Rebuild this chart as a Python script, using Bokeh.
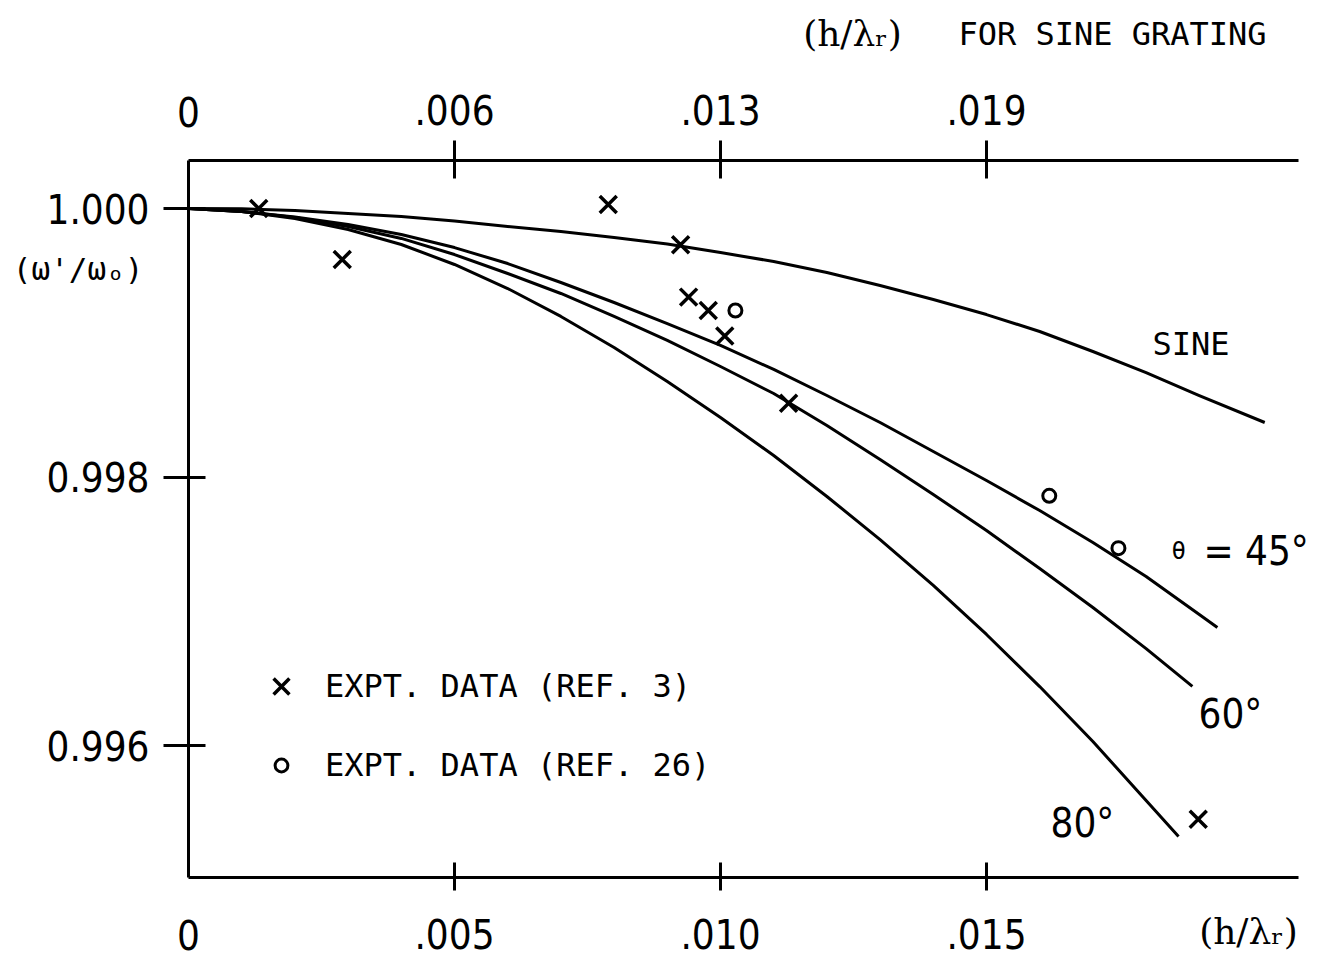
from bokeh.plotting import figure
from bokeh.models import (Range1d, LinearAxis, FixedTicker, Label, Legend,
                          LegendItem)
from bokeh.embed import file_html
from bokeh.resources import INLINE

# ---------------- data ----------------
x_sine = [0.0, 0.001, 0.002, 0.003, 0.004, 0.005, 0.006, 0.007, 0.008, 0.009, 0.010,
          0.011, 0.012, 0.013, 0.014, 0.015, 0.016, 0.017, 0.018, 0.019, 0.02023]
y_sine = [1.0, 0.999998, 0.999985, 0.999963, 0.999940, 0.999907, 0.999866, 0.999829,
          0.999784, 0.999736, 0.999672, 0.999605, 0.999523, 0.999426, 0.999322,
          0.999210, 0.999084, 0.998935, 0.998778, 0.998607, 0.998406]

x_45 = [0.0, 0.001, 0.002, 0.003, 0.004, 0.005, 0.006, 0.007, 0.008, 0.009, 0.010,
        0.011, 0.012, 0.013, 0.014, 0.015, 0.016, 0.017, 0.018, 0.019, 0.01934]
y_45 = [1.0, 0.999978, 0.999937, 0.999881, 0.999806, 0.999709, 0.999590, 0.999449,
        0.999300, 0.999143, 0.998980, 0.998801, 0.998607, 0.998406, 0.998190,
        0.997974, 0.997750, 0.997512, 0.997259, 0.996976, 0.996879]

x_60 = [0.0, 0.001, 0.002, 0.003, 0.004, 0.005, 0.006, 0.007, 0.008, 0.009, 0.010,
        0.011, 0.012, 0.013, 0.014, 0.015, 0.016, 0.017, 0.018, 0.01887]
y_60 = [1.0, 0.999978, 0.999933, 0.999866, 0.999777, 0.999657, 0.999516, 0.999367,
        0.999196, 0.999017, 0.998823, 0.998622, 0.998384, 0.998130, 0.997870,
        0.997601, 0.997318, 0.997028, 0.996722, 0.996440]

x_80 = [0.0, 0.001, 0.002, 0.003, 0.004, 0.005, 0.006, 0.007, 0.008, 0.009, 0.010,
        0.011, 0.012, 0.013, 0.014, 0.015, 0.016, 0.017, 0.018, 0.01861]
y_80 = [1.0, 0.999978, 0.999926, 0.999844, 0.999732, 0.999583, 0.999404, 0.999196,
        0.998965, 0.998711, 0.998443, 0.998160, 0.997855, 0.997534, 0.997192,
        0.996827, 0.996439, 0.996030, 0.995590, 0.995322]

x_ref3 = [0.00132, 0.00289, 0.00789, 0.00925, 0.00940, 0.00977, 0.01008, 0.01128, 0.01898]
y_ref3 = [1.00000, 0.99962, 1.00003, 0.99973, 0.99934, 0.99924, 0.99905, 0.99855, 0.99545]

x_ref26 = [0.01028, 0.01618, 0.01748]
y_ref26 = [0.99924, 0.99786, 0.99747]

bottom_ticks = [0.005, 0.010, 0.015]
bottom_labels = [".005", ".010", ".015"]
top_ticks = [0.005, 0.010, 0.015]
top_labels = [".006", ".013", ".019"]
left_ticks = [0.996, 0.998, 1.000]
left_labels = ["0.996", "0.998", "1.000"]
zero_label = "0"
x_title = "(h/\u03bb\u1d63)"
top_note = "FOR SINE GRATING"
y_title = "(\u03c9'/\u03c9\u2092)"

# ---------------- layout ----------------
W, H = 1319, 965
FL, FR, FT, FB = 188, 1315, 160, 877
BOX_R = 1298                      # where the drawn box ends on the right
FW, FH = FR - FL, FB - FT
PX_PER_X = 53200.0                # pixels per unit of h/lambda
PX_PER_Y = 134250.0               # pixels per unit of omega ratio
XMIN = 0.0
XMAX = XMIN + FW / PX_PER_X
YMAX = 1.0 + (208 - FT) / PX_PER_Y
YMIN = YMAX - FH / PX_PER_Y

NARROW = "DejaVu Sans Condensed"
MONO = "DejaVu Sans Mono"
SERIF = "DejaVu Serif"


def dx(px):
    return XMIN + (px - FL) / PX_PER_X


def dy(py):
    return YMAX - (py - FT) / PX_PER_Y


p = figure(width=W, height=H, output_backend="svg", toolbar_location=None,
           x_range=Range1d(XMIN, XMAX), y_range=Range1d(YMIN, YMAX),
           x_axis_type=None, y_axis_type=None,
           min_border_left=FL, min_border_right=W - FR,
           min_border_top=FT, min_border_bottom=H - FB)
p.outline_line_color = None
p.background_fill_color = "white"
p.border_fill_color = "white"
p.xgrid.visible = False
p.ygrid.visible = False


def make_axis(ticks, labels, font, size, tin, tout, standoff, visible_line=True):
    ax = LinearAxis(ticker=FixedTicker(ticks=ticks, minor_ticks=[]),
                    major_label_overrides=dict(zip(ticks, labels)))
    ax.major_tick_in = tin
    ax.major_tick_out = tout
    ax.minor_tick_in = 0
    ax.minor_tick_out = 0
    ax.minor_tick_line_color = None
    ax.major_label_standoff = standoff
    ax.major_label_text_font = font
    ax.major_label_text_font_size = size
    ax.major_label_text_color = "black"
    if visible_line:
        ax.axis_line_width = 3
        ax.axis_line_color = "black"
        ax.major_tick_line_width = 3
        ax.major_tick_line_color = "black"
    else:
        ax.axis_line_color = None
        ax.major_tick_line_color = None
    return ax


# bottom: main axis, then "0", then the (h/lambda_r) label on the same row
xb = make_axis(bottom_ticks, bottom_labels, NARROW, "40px", 15, 13, 28)
xb.bounds = (XMIN, dx(BOX_R))
p.add_layout(xb, "below")
xb0 = make_axis([XMIN], [zero_label], NARROW, "40px", 0, 0, -32, False)
p.add_layout(xb0, "below")
xbt = make_axis([dx(1248)], [x_title], SERIF, "36px", 0, 0, -42, False)
p.add_layout(xbt, "below")

# top: main axis, then "0", then the title pieces
xt = make_axis(top_ticks, top_labels, NARROW, "40px", 18, 20, 16)
xt.bounds = (XMIN, dx(BOX_R))
p.add_layout(xt, "above")
xt0 = make_axis([XMIN], [zero_label], NARROW, "40px", 0, 0, -35, False)
p.add_layout(xt0, "above")
xtt = make_axis([dx(852)], [x_title], SERIF, "36px", 0, 0, 38, False)
p.add_layout(xtt, "above")
xtn = make_axis([dx(1112)], [top_note], MONO, "32px", 0, 0, -43, False)
p.add_layout(xtn, "above")

# left: main axis, then the horizontal y title below 1.000
yl = make_axis(left_ticks, left_labels, NARROW, "40px", 17, 25, 14)
p.add_layout(yl, "left")
ylt = make_axis([dy(268)], [y_title], MONO, "31px", 0, 0, -100, False)
p.add_layout(ylt, "left")

# ---------------- curves ----------------
for xs, ys in [(x_sine, y_sine), (x_45, y_45), (x_60, y_60), (x_80, y_80)]:
    p.line(xs, ys, line_width=3, line_color="black", line_join="round")

r3 = p.scatter(x_ref3, y_ref3, marker="x", size=24, line_width=3.5,
               line_color="black")
r26 = p.scatter(x_ref26, y_ref26, marker="circle", size=13, line_width=3,
                line_color="black", fill_color="white")


def legend_for(label, rend, glyph, standoff, loc):
    lg = Legend(items=[LegendItem(label=label, renderers=[rend])],
                location=loc, orientation="vertical",
                glyph_width=glyph, glyph_height=glyph, label_height=glyph,
                label_standoff=standoff, padding=0, margin=0,
                border_line_color=None, background_fill_alpha=0,
                label_text_font=MONO, label_text_font_size="32px",
                label_text_baseline="middle", label_text_color="black")
    p.add_layout(lg)


legend_for("EXPT. DATA (REF. 3)", r3, 56, 16, (65, 163))
legend_for("EXPT. DATA (REF. 26)", r26, 32, 28, (77, 93))


def lab(text, px, py, font, size, align="left"):
    p.add_layout(Label(x=dx(px), y=dy(py), text=text, text_font=font,
                       text_font_size=size, text_align=align,
                       text_baseline="middle", text_color="black"))


# curve labels
lab("SINE", 1152, 343, MONO, "32px")
lab("\u03b8", 1171, 550, MONO, "24px")
lab("= 45\u00b0", 1203, 550, NARROW, "40px")
lab("60\u00b0", 1198, 713, NARROW, "40px")
lab("80\u00b0", 1050, 822, NARROW, "40px")

open("out.html", "w").write(file_html(p, INLINE))
